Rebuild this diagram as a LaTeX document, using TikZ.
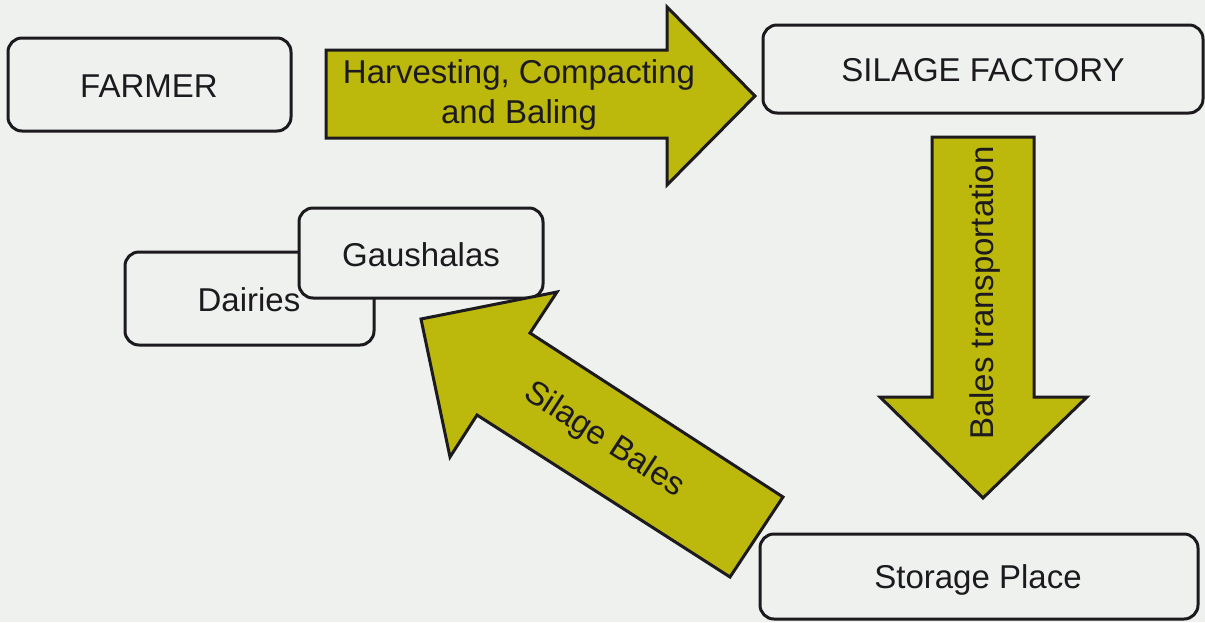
\documentclass[tikz,border=0pt]{standalone}
\usepackage{fontspec}
\setmainfont{Liberation Sans}
\definecolor{bg}{RGB}{238,241,238}
\definecolor{olive}{RGB}{189,184,12}
\definecolor{ink}{RGB}{28,26,30}
\begin{document}
\begin{tikzpicture}[x=1pt,y=-1pt,
  lbl/.style={text=ink,font=\fontsize{33}{40}\selectfont,inner sep=0pt},
  boxshape/.style={draw=ink,line width=3pt,rounded corners=14pt,fill=bg},
  blockarrow/.style={draw=ink,line width=3pt,fill=olive,line join=miter}]
\fill[bg] (0,0) rectangle (1205,622);
\useasboundingbox (0,0) rectangle (1205,622);
% boxes
\draw[boxshape] (8,38) rectangle (291,131);
\node[lbl] (farmer) at (149,86) {FARMER};
\draw[boxshape] (763,25) rectangle (1203,113);
\node[lbl] (factory) at (983,70) {SILAGE FACTORY};
\draw[boxshape] (760,534) rectangle (1198,619);
\node[lbl] (storage) at (978,580) {Storage Place};
\draw[boxshape] (125,252) rectangle (374,345);
\draw[boxshape] (299,208) rectangle (543,298);
\node[lbl] (gaushalas) at (421,255) {Gaushalas};
\node[lbl] (dairies) at (249,300) {Dairies};
% arrow 1
\draw[blockarrow] (326,50) -- (667,50) -- (667,7) -- (755,96) -- (667,185) -- (667,138) -- (326,138) -- cycle;
\node[lbl,align=center] (harv) at (519,95) {Harvesting, Compacting\\and Baling};
% arrow 2
\draw[blockarrow] (932,137) -- (1034,137) -- (1034,397) -- (1087,397) -- (983,498) -- (880,397) -- (932,397) -- cycle;
\node[lbl,rotate=90] (bales) at (985,293) {Bales transportation};
% arrow 3
\draw[blockarrow] (421,319) -- (557,292) -- (530,333) -- (783,497) -- (730,577) -- (477,415) -- (450,457) -- cycle;
\node[lbl,rotate=-33] (silage) at (604,440) {Silage Bales};
\end{tikzpicture}
\end{document}
